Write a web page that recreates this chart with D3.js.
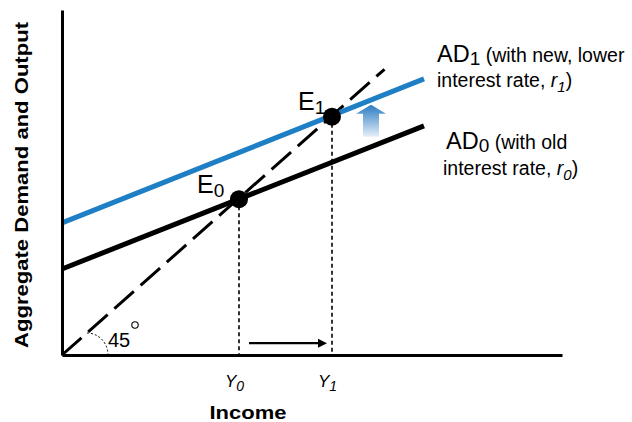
<!DOCTYPE html>
<html><head><meta charset="utf-8">
<script src="https://cdn.jsdelivr.net/npm/d3@7"></script>
<style>
html,body{margin:0;padding:0;background:#fff;}
text{font-family:"Liberation Sans",Arial,Helvetica,sans-serif;fill:#000;}
</style></head>
<body><svg id="c" width="632" height="422"></svg>
<script>
// ---- data (chart units) ----
const incomeDomain = [0, 100];
const outputDomain = [0, 78.6];
const adNames = ["AD0", "AD1"];
const adStartIncome = [0, 0];
const adEndIncome = [72.4, 72.4];
const adStartValue = [19.6, 30.1];
const adEndValue = [52.2, 62.9];
const adColors = ["#000000", "#1f7fc5"];
const equilibriumIncome = [35.4, 54.0];
const equilibriumValue = [35.5, 54.3];
const equilibriumLabels = ["0", "1"];
const line45End = [64.5, 65.1];
const shiftArrowIncome = [37.4, 53.0];
const shiftArrowLevel = 2.7;
const upArrowIncome = 61.8;
const upArrowLevels = [49.7, 57.0];

const svg = d3.select("#c");
const x = d3.scaleLinear().domain(incomeDomain).range([62, 562]);
const y = d3.scaleLinear().domain(outputDomain).range([355, 10]);

const defs = svg.append("defs");
const grad = defs.append("linearGradient").attr("id","ug").attr("x1",0).attr("y1",0).attr("x2",0).attr("y2",1);
grad.append("stop").attr("offset","0%").attr("stop-color","#2a7cc2");
grad.append("stop").attr("offset","100%").attr("stop-color","#e6eff9");

// 45 degree dashed line
svg.append("line")
  .attr("x1", x(0)).attr("y1", y(0)).attr("x2", x(line45End[0])).attr("y2", y(line45End[1]))
  .attr("stroke","#000").attr("stroke-width",3).attr("stroke-dasharray","26,9");

// AD lines
adNames.forEach((n,i)=>{
  svg.append("line")
    .attr("x1", x(adStartIncome[i])).attr("y1", y(adStartValue[i]))
    .attr("x2", x(adEndIncome[i])).attr("y2", y(adEndValue[i]))
    .attr("stroke", adColors[i]).attr("stroke-width", 5);
});

// vertical dotted lines
equilibriumIncome.forEach((e,i)=>{
  svg.append("line")
    .attr("x1", x(e)).attr("x2", x(e)).attr("y1", y(equilibriumValue[i])).attr("y2", y(0))
    .attr("stroke","#000").attr("stroke-width",1.6).attr("stroke-dasharray","4,3");
});

// axes
const xAxis = d3.axisBottom(x).tickValues([]).tickSizeOuter(0);
const yAxis = d3.axisLeft(y).tickValues([]).tickSizeOuter(0);
svg.append("g").attr("transform",`translate(0,${y(0)})`).call(xAxis)
  .select(".domain").attr("stroke","#000").attr("stroke-width",3);
svg.append("g").attr("transform",`translate(${x(0)},0)`).call(yAxis)
  .select(".domain").attr("stroke","#000").attr("stroke-width",3);

// equilibrium dots
equilibriumIncome.forEach((e,i)=>{
  svg.append("circle").attr("cx", x(e)).attr("cy", y(equilibriumValue[i])).attr("r", 9).attr("fill","#000");
});

// 45 degree arc and label
svg.append("path")
  .attr("d", `M ${x(0)+25},${y(0)-22} A 21 22 0 0 1 ${x(0)+46},${y(0)}`)
  .attr("fill","none").attr("stroke","#000").attr("stroke-width",1).attr("stroke-dasharray","2,2");
svg.append("text").attr("x", 108).attr("y", 347).attr("font-size", 20).text("45");
svg.append("circle").attr("cx",135).attr("cy",325).attr("r",3.2).attr("fill","none").attr("stroke","#000").attr("stroke-width",1.1);

// horizontal shift arrow
svg.append("line")
  .attr("x1", x(shiftArrowIncome[0])).attr("x2", x(shiftArrowIncome[1]) - 7)
  .attr("y1", y(shiftArrowLevel)).attr("y2", y(shiftArrowLevel))
  .attr("stroke","#000").attr("stroke-width",2.2);
{
  const ax = x(shiftArrowIncome[1]), ay = y(shiftArrowLevel);
  svg.append("path").attr("d", `M ${ax},${ay} L ${ax-9},${ay-4.5} L ${ax-9},${ay+4.5} Z`).attr("fill","#000");
}

// up gradient arrow
{
  const cx = x(upArrowIncome), yb = y(upArrowLevels[0]), yt = y(upArrowLevels[1]);
  const p = `M ${cx},${yt} L ${cx+15},${yt+9} L ${cx+8},${yt+9} L ${cx+8},${yb} L ${cx-8},${yb} L ${cx-8},${yt+9} L ${cx-15},${yt+9} Z`;
  svg.append("path").attr("d", p).attr("fill","url(#ug)");
}

// E labels
const eLab = [[197,193],[298,110]];
equilibriumLabels.forEach((s,i)=>{
  const t = svg.append("text").attr("x", eLab[i][0]).attr("y", eLab[i][1]).attr("font-size", 25);
  t.append("tspan").text("E");
  t.append("tspan").attr("font-size",19).attr("dy",4).text(s);
});

// AD labels
function adLabel(xp, yp, sub, rest, x2, y2, rsub){
  const t = svg.append("text").attr("x", xp).attr("y", yp).attr("font-size", 23.5);
  t.append("tspan").text("AD");
  t.append("tspan").attr("font-size",19).attr("dy",3).text(sub);
  t.append("tspan").attr("font-size",19.5).attr("dy",-3).text(" " + rest);
  const t2 = svg.append("text").attr("x", x2).attr("y", y2).attr("font-size", 19.5);
  t2.append("tspan").text("interest rate, ");
  t2.append("tspan").attr("font-style","italic").text("r");
  t2.append("tspan").attr("font-style","italic").attr("font-size",15).attr("dy",5).text(rsub);
  t2.append("tspan").attr("dy",-5).text(")");
}
adLabel(437, 62, "1", "(with new, lower", 437, 87, "1");
adLabel(446, 149, "0", "(with old", 443, 175, "0");

// Y0 / Y1 labels
equilibriumLabels.forEach((s,i)=>{
  const t = svg.append("text").attr("x", x(equilibriumIncome[i]) - 14).attr("y", 387)
    .attr("font-size", 17).attr("font-style","italic");
  t.append("tspan").text("Y");
  t.append("tspan").attr("font-size",14).attr("dy",4).text(s);
});

// axis titles
svg.append("text").attr("x", 248).attr("y", 419).attr("text-anchor","middle")
  .attr("font-size", 18).attr("font-weight","bold")
  .attr("textLength", 77).attr("lengthAdjust","spacingAndGlyphs").text("Income");
svg.append("text").attr("transform","translate(28,185) rotate(-90)").attr("text-anchor","middle")
  .attr("font-size", 17.5).attr("font-weight","bold")
  .attr("textLength", 326).attr("lengthAdjust","spacingAndGlyphs").text("Aggregate Demand and Output");
</script></body></html>
